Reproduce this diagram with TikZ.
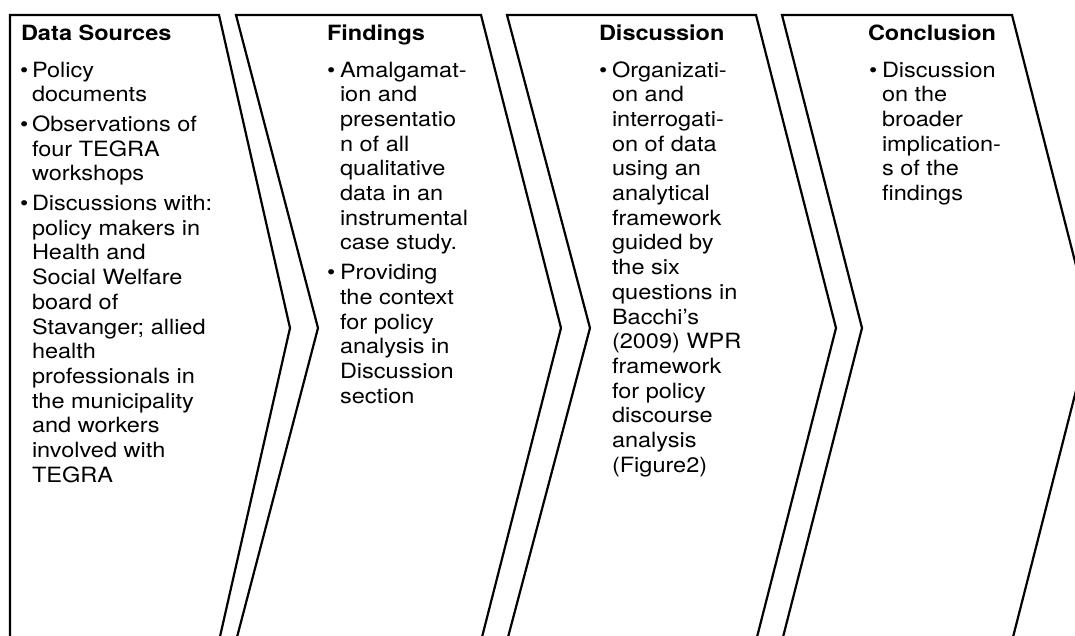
\documentclass[tikz,border=0pt]{standalone}
\usepackage{fontspec}
\setmainfont{TeX Gyre Heros}[FakeStretch=1.12]
\newcommand\blk[1]{\vtop{\hsize=300pt\parindent=0pt\rightskip=0pt plus 1fil\relax #1}}
\tikzset{
  chev/.style={draw=black, line width=2.2pt, fill=white, line join=miter},
  txt/.style={anchor=base west, inner sep=0pt, outer sep=0pt, font=\fontsize{21}{24.7}\selectfont},
  ttl/.style={txt, font=\fontsize{21}{24.7}\selectfont\bfseries},
  bul/.style={txt}
}
\begin{document}
\begin{tikzpicture}[x=1pt,y=-1pt]
\useasboundingbox (0,0) rectangle (1075,635);
\clip (0,0) rectangle (1075,635);
\fill[white] (0,0) rectangle (1075,635);
% chevrons
\draw[chev] (10,15) -- (219,15) -- (290,328) -- (219,641) -- (10,641) -- cycle;
\draw[chev] (236,15) -- (481,15) -- (561,328) -- (481,641) -- (236,641) -- (318,328) -- cycle;
\draw[chev] (507,15) -- (756,15) -- (836,328) -- (756,641) -- (507,641) -- (590,328) -- cycle;
\draw[chev] (782,15) -- (1012,15) -- (1092,328) -- (1012,641) -- (782,641) -- (862,328) -- cycle;
% column 1
\node[ttl] (t1) at (21,40) {Data Sources};
\node[bul] (b1a) at (20,77) {\textbullet};
\node[txt] (i1a) at (32,77) {\blk{Policy\\documents}};
\node[bul] (b1b) at (20,131.4) {\textbullet};
\node[txt] (i1b) at (32,131.4) {\blk{Observations of\\four TEGRA\\workshops}};
\node[bul] (b1c) at (20,210.5) {\textbullet};
\node[txt] (i1c) at (32,210.5) {\blk{Discussions with:\\policy makers in\\Health and\\Social Welfare\\board of\\Stavanger; allied\\health\\professionals in\\the municipality\\and workers\\involved with\\TEGRA}};
% column 2
\node[ttl] (t2) at (327,40) {Findings};
\node[bul] (b2a) at (327,77) {\textbullet};
\node[txt] (i2a) at (340,77) {\blk{Amalgamat-\\ion and\\presentatio\\n of all\\qualitative\\data in an\\instrumental\\case study.}};
\node[bul] (b2b) at (327,279.6) {\textbullet};
\node[txt] (i2b) at (340,279.6) {\blk{Providing\\the context\\for policy\\analysis in\\Discussion\\section}};
% column 3
\node[ttl] (t3) at (599,40) {Discussion};
\node[bul] (b3a) at (599,77) {\textbullet};
\node[txt] (i3a) at (612,77) {\blk{Organizati-\\on and\\interrogati-\\on of data\\using an\\analytical\\framework\\guided by\\the six\\questions in\\Bacchi’s\\(2009) WPR\\framework\\for policy\\discourse\\analysis\\(Figure2)}};
% column 4
\node[ttl] (t4) at (868,40) {Conclusion};
\node[bul] (b4a) at (869,77) {\textbullet};
\node[txt] (i4a) at (882,77) {\blk{Discussion\\on the\\broader\\implication-\\s of the\\findings}};
\end{tikzpicture}
\end{document}
